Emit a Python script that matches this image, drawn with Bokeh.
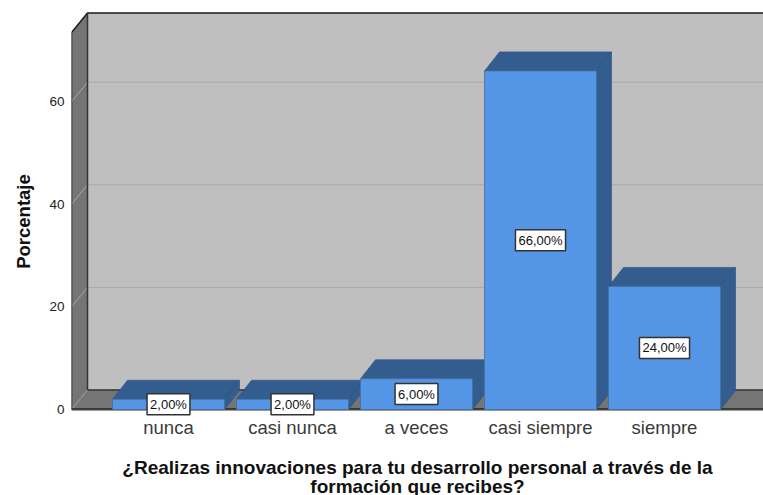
from bokeh.plotting import figure
from bokeh.models import Label, FixedTicker
from bokeh.embed import file_html
from bokeh.resources import INLINE

categories = ["nunca", "casi nunca", "a veces", "casi siempre", "siempre"]
values = [2, 2, 6, 66, 24]
labels = ["2,00%", "2,00%", "6,00%", "66,00%", "24,00%"]
y_ticks = [0, 20, 40, 60]
x_title = "¿Realizas innovaciones para tu desarrollo personal a través de la\nformación que recibes?"
y_title = "Porcentaje"

FONT = "Liberation Sans"
FRONT, SHADE = "#5595E6", "#335C8F"
WALL, DARK = "#BFBFBF", "#757575"
PX_X, PX_Y = 124.0, 5.13
DX, DY = 16 / PX_X, 19.5 / PX_Y
BDX, BDY = 15 / PX_X, 19 / PX_Y
BAR = 112 / PX_X
XMIN, XMAX = -97 / PX_X, (763 - 168) / PX_X
TOP_FRONT = (409 - 32) / PX_Y
YMAX = 399 / PX_Y
YMIN = -23 / PX_Y

p = figure(width=763, height=495, frame_width=692, frame_height=422,
           x_range=(XMIN, XMAX), y_range=(YMIN, YMAX),
           toolbar_location=None, output_backend="svg",
           min_border_left=71, min_border_right=0, min_border_top=10, min_border_bottom=63)
p.outline_line_color = None
p.grid.visible = False
p.background_fill_color = "white"

# walls and floor
p.patch([XMIN + DX, XMAX + 1, XMAX + 1, XMIN + DX],
        [DY, DY, TOP_FRONT + DY, TOP_FRONT + DY], fill_color=WALL, line_color=None)
p.patch([XMIN, XMIN + DX, XMIN + DX, XMIN],
        [0, DY, TOP_FRONT + DY, TOP_FRONT], fill_color=DARK, line_color=None)
p.patch([XMIN, XMIN + DX, XMAX + 1, XMAX + 1],
        [0, DY, DY, 0], fill_color=DARK, line_color=None)

# gridlines on the back wall and across the side wall
grid = y_ticks[1:]
p.segment([XMIN + DX] * 3, [v + DY for v in grid], [XMAX] * 3, [v + DY for v in grid],
          line_color="#A9A9A9", line_width=1)
p.segment([XMIN] * 3, grid, [XMIN + DX] * 3, [v + DY for v in grid],
          line_color="#A9A9A9", line_width=1)

# wall edges
edge = dict(line_color="#1A1A1A", line_width=1.5)
p.line([XMIN, XMIN, XMIN + DX, XMAX], [0, TOP_FRONT, TOP_FRONT + DY, TOP_FRONT + DY], **edge)
p.line([XMIN + DX, XMIN + DX, XMAX], [TOP_FRONT + DY, DY, DY], line_color="#333333", line_width=1.5)
p.line([XMIN, XMIN + DX], [0, DY], line_color="#9A9A9A", line_width=1)
p.line([XMIN, XMAX], [0.1, 0.1], line_color="#222222", line_width=1.5)

# bars
for i, v in enumerate(values):
    l, r = i - BAR / 2, i + BAR / 2
    p.patch([l, l + BDX, r + BDX, r], [v, v + BDY, v + BDY, v],
            fill_color=SHADE, line_color="#2C4F7C", line_width=0.6)
    p.patch([r, r + BDX, r + BDX, r], [0, BDY, v + BDY, v],
            fill_color=SHADE, line_color="#2C4F7C", line_width=0.6)
    p.patch([l, r, r, l], [0, 0, v, v],
            fill_color=FRONT, line_color="#44709F", line_width=0.8)

# line under the floor
p.line([XMIN, XMAX], [-0.2, -0.2], line_color="#9A9A9A", line_width=1)

# value labels
for i, (v, t) in enumerate(zip(values, labels)):
    p.add_layout(Label(x=i, y=v / 2, text=t, text_font=FONT, text_font_size="13px",
                       text_color="#111111", text_align="center", text_baseline="middle",
                       background_fill_color="white", border_line_color="#333333",
                       border_line_width=1.5, padding=3))

# axes
xa, ya = p.xaxis[0], p.yaxis[0]
xa.ticker = FixedTicker(ticks=list(range(len(categories))))
xa.major_label_overrides = {i: c for i, c in enumerate(categories)}
xa.major_label_text_font = FONT
xa.major_label_text_font_size = "18.5px"
xa.major_label_text_color = "#3A3A3A"
xa.major_label_standoff = -22
xa.major_tick_line_color = None
xa.minor_tick_line_color = None
xa.axis_line_color = None
xa.axis_label = x_title
xa.axis_label_text_font = FONT
xa.axis_label_text_font_size = "19px"
xa.axis_label_text_font_style = "bold"
xa.axis_label_text_color = "#111111"
xa.axis_label_text_line_height = 0.95
xa.axis_label_standoff = 16

ya.ticker = FixedTicker(ticks=y_ticks)
ya.major_label_text_font = FONT
ya.major_label_text_font_size = "13.5px"
ya.major_label_text_color = "#222222"
ya.major_label_standoff = 1
ya.major_tick_line_color = None
ya.minor_tick_line_color = None
ya.axis_line_color = None
ya.major_label_orientation = "horizontal"
ya.axis_label = y_title
ya.axis_label_text_font = FONT
ya.axis_label_text_font_size = "18.5px"
ya.axis_label_text_font_style = "bold"
ya.axis_label_text_color = "#111111"
ya.axis_label_standoff = 12

open("out.html", "w").write(file_html(p, INLINE))
